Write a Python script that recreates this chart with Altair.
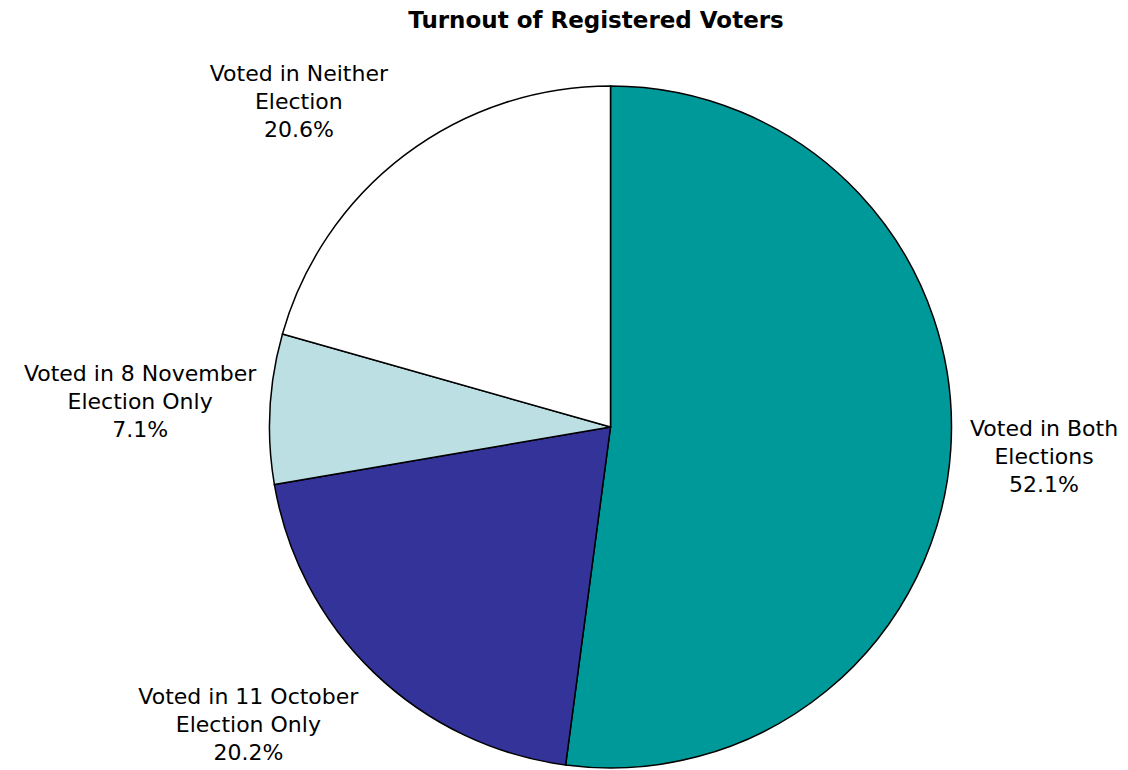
import altair as alt
import pandas as pd

categories = [
    "Voted in Both Elections",
    "Voted in 11 October Election Only",
    "Voted in 8 November Election Only",
    "Voted in Neither Election",
]
label_lines = [
    "Voted in Both\nElections",
    "Voted in 11 October\nElection Only",
    "Voted in 8 November\nElection Only",
    "Voted in Neither\nElection",
]
values = [52.1, 20.2, 7.1, 20.6]
colors = ["#009999", "#333399", "#BBDFE3", "#FFFFFF"]

df = pd.DataFrame({
    "category": categories,
    "value": values,
    "order": list(range(len(categories))),
    "label": [f"{l}\n{v:.1f}%" for l, v in zip(label_lines, values)],
})

CX, CY = 602.5, 392.0   # pie centre inside the view
R = 341
FONT = "DejaVu Sans"

base = alt.Chart(df)

pie = base.mark_arc(stroke="black", strokeWidth=1.5, radius=R).encode(
    theta=alt.Theta("value:Q", stack=True),
    color=alt.Color("category:N", scale=alt.Scale(domain=categories, range=colors), legend=None),
    order=alt.Order("order:Q"),
    x=alt.value(CX),
    y=alt.value(CY),
)

labels = base.transform_joinaggregate(
    total="sum(value)"
).transform_window(
    cum="sum(value)", sort=[alt.SortField("order")], frame=[None, 0]
).transform_calculate(
    mid="2*PI*(datum.cum - datum.value/2)/datum.total",
    ax=f"{R + 14}*sin(datum.mid)",
    ay=f"-{R + 14}*cos(datum.mid)",
    hw="length(split(datum.label, '\\n')[0])*6.1",
    sx="clamp(sin(datum.mid)*2.5, -1, 1)",
    sy="clamp(-cos(datum.mid)*2.5, -1, 1)",
    ox="datum.ax + datum.hw*datum.sx",
    oy="datum.ay + 42*datum.sy",
    lt="atan2(datum.ox, -datum.oy)",
    lr="sqrt(datum.ox*datum.ox + datum.oy*datum.oy)",
).mark_text(
    font=FONT, fontSize=22, lineHeight=28, lineBreak="\n",
    align="center", baseline="middle", color="black", dy=-28,
).encode(
    theta=alt.Theta("lt:Q", scale=None, stack=False),
    radius=alt.Radius("lr:Q", scale=None),
    text="label:N",
    x=alt.value(CX),
    y=alt.value(CY),
)

chart = alt.layer(pie, labels).properties(
    width=1112,
    height=720,
    padding={"top": 2, "left": 0, "right": 0, "bottom": 0},
    title=alt.TitleParams(
        "Turnout of Registered Voters",
        font=FONT, fontSize=23, fontWeight="bold", color="black",
        anchor="middle", dx=32, offset=2,
    ),
).configure_view(stroke=None)

chart.save("out.html", embed_options={"renderer": "svg", "actions": False})
